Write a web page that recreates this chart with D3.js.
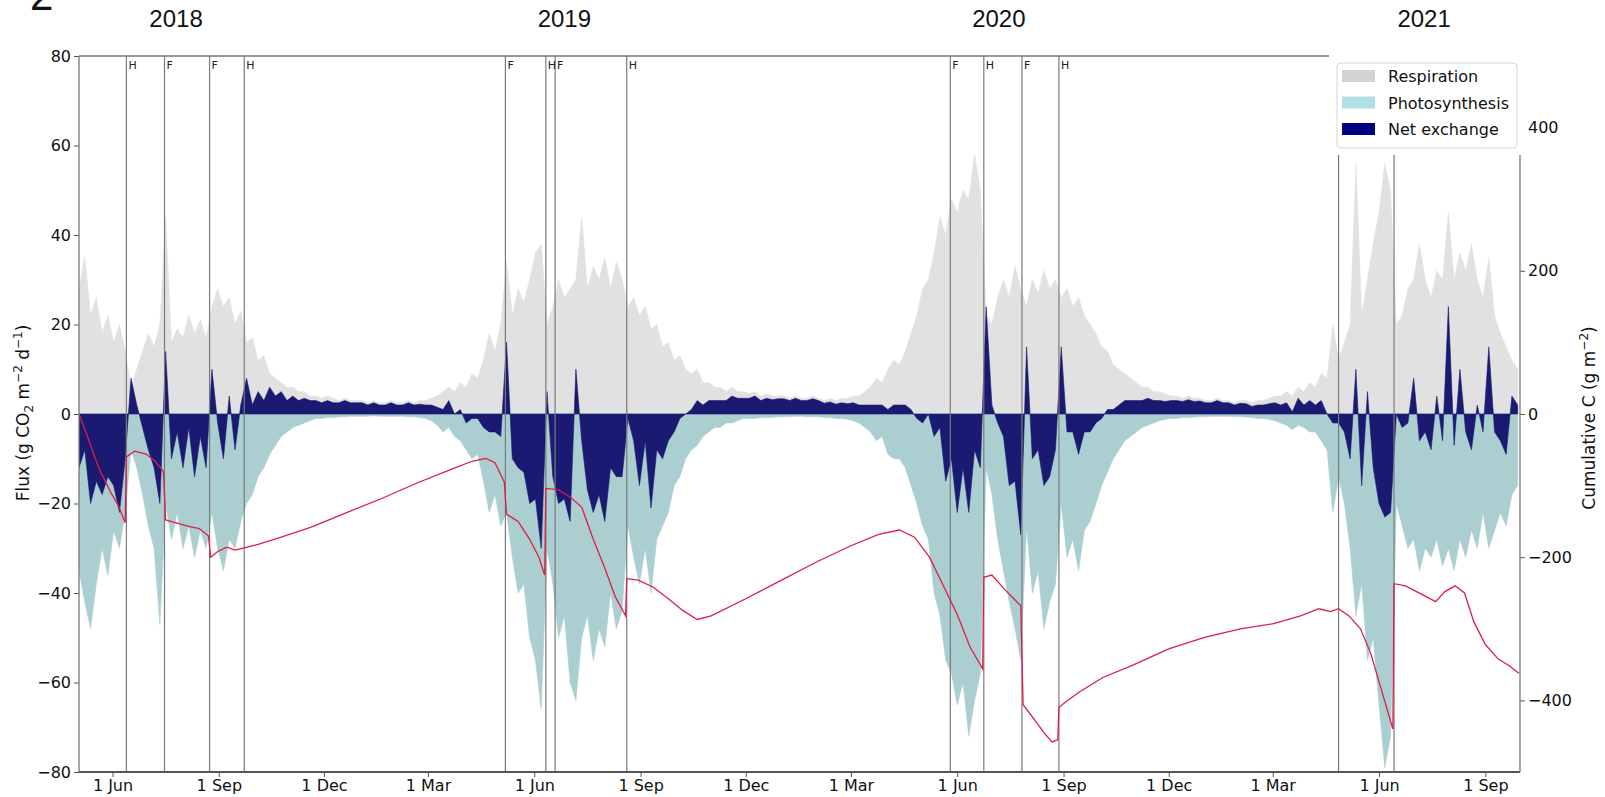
<!DOCTYPE html>
<html>
<head>
<meta charset="utf-8">
<script src="https://cdn.jsdelivr.net/npm/d3@7"></script>
<style>
  body { margin: 0; background: #fff; }
  svg text { font-family: "DejaVu Sans", sans-serif; }
</style>
</head>
<body>
<div id="chart"></div>
<script>
// daily fluxes sampled every 5 days from the start date (g CO2 m-2 d-1)
var startDate = "2018-05-03";
var stepDays = 5;

var respiration = [
  28, 35, 22, 26, 18, 22, 16, 20, 14, 6,
  10, 14, 18, 15, 20, 44, 16, 19, 17, 22,
  18, 21, 17, 24, 28, 24, 26, 20, 23, 16,
  17, 12, 13, 9, 8, 7, 6, 6, 5, 5,
  4, 4, 3.5, 4, 3.5, 3, 3.5, 3, 3, 3,
  2.5, 3, 2.5, 2.5, 3, 2.5, 2.5, 3, 2.5, 3,
  3, 3.5, 4, 5, 6, 5, 7, 6, 9, 8,
  12, 18, 14, 20, 34, 22, 28, 25, 30, 36,
  38, 20, 24, 30, 26, 28, 30, 44, 28, 33,
  30, 35, 28, 34, 30, 24, 26, 22, 24, 19,
  20, 15, 16, 12, 13, 10, 9, 10, 7, 7,
  6, 6, 5, 6, 5, 5, 4.5, 5, 4, 4.5,
  4, 4, 4, 3.5, 4, 3.5, 3.5, 4, 3.5, 3,
  3.5, 3, 3.5, 3.5, 4, 4, 5, 6, 8, 7,
  10, 12, 11, 14, 18, 22, 28, 30, 36, 44,
  40, 48, 45, 50, 48, 58, 50, 22, 20, 26,
  30, 26, 33, 28, 24, 30, 27, 32, 28, 30,
  26, 28, 24, 26, 22, 20, 18, 15, 14, 11,
  10, 9, 8, 7, 6, 6, 5, 5, 4.5, 4,
  4, 3.5, 4, 3.5, 3.5, 3, 3, 3.5, 3, 3,
  2.5, 3, 3, 2.5, 3, 3, 3.5, 4, 4, 5,
  4, 6, 5, 7, 6, 9, 8, 20, 12, 16,
  20, 56, 22, 30, 38, 45, 56, 50, 20, 22,
  28, 30, 38, 30, 26, 32, 30, 45, 30, 36,
  32, 38, 30, 26, 35, 22, 18, 15, 12, 10
];

var photosynthesis = [
  -35, -42, -48, -38, -30, -36, -26, -30, -22, -8,
  -12, -18, -25, -30, -47, -20, -28, -22, -30, -25,
  -32, -26, -30, -22, -30, -35, -28, -30, -24, -20,
  -18, -14, -12, -9, -7, -5, -4, -3, -2.5, -2,
  -1.5, -1, -1, -0.8, -0.8, -0.6, -0.6, -0.5, -0.5, -0.5,
  -0.5, -0.4, -0.5, -0.5, -0.5, -0.5, -0.5, -0.6, -0.6, -0.8,
  -1, -1.5, -2.5, -4, -3, -5, -6, -8, -10, -9,
  -15, -22, -18, -25, -22, -32, -40, -38, -50, -55,
  -66, -30, -38, -50, -45, -60, -64, -50, -45, -55,
  -48, -52, -40, -48, -44, -25, -32, -38, -30, -40,
  -28, -25, -22, -16, -14, -10, -8, -7, -5, -4,
  -3, -3, -2, -2, -1.5, -1, -1, -1, -0.8, -0.8,
  -0.8, -0.6, -0.6, -0.6, -0.5, -0.5, -0.6, -0.6, -0.6, -0.8,
  -0.8, -1, -1, -1.2, -1.5, -2, -3, -4, -6, -5,
  -9, -10, -10, -12, -16, -20, -25, -28, -40, -45,
  -55, -58, -65, -60, -72, -64, -58, -12, -18, -28,
  -35, -42, -48, -55, -25, -40, -35, -48, -42, -38,
  -20, -32, -28, -35, -26, -24, -20, -16, -13, -10,
  -8, -6, -5, -4, -3, -2.5, -2, -1.5, -1.2, -1,
  -1, -0.8, -0.8, -0.7, -0.6, -0.6, -0.5, -0.5, -0.5, -0.5,
  -0.6, -0.6, -0.7, -0.8, -1, -1, -1.2, -1.5, -2, -2.5,
  -3.5, -2.5, -3, -4, -4, -6, -8, -22, -14, -20,
  -30, -45, -38, -55, -50, -65, -79, -72, -20, -25,
  -30, -28, -35, -30, -32, -28, -34, -30, -35, -28,
  -32, -26, -30, -22, -30, -26, -22, -25, -18, -16
];

var netExchange = [
  -12, -8, -20, -15, -18, -14, -16, -22, -10, 8,
  2, -3, -8, -12, -20, 14, -10, -4, -12, -3,
  -14, -5, -12, 10, -2, -10, 4, -8, 2, 8,
  2, 5, 3, 6, 4, 5, 3, 4, 3, 3.5,
  3, 3, 2.5, 3, 2.5, 2.5, 3, 2.5, 2.5, 2.5,
  2, 2.5, 2, 2, 2.5, 2, 2, 2.5, 2, 2.2,
  2, 2, 1.5, 1, 3, 0, 1, -2, -1, -1,
  -3, -4, -4, -5, 16, -10, -12, -13, -20, -19,
  -30, 5, -14, -20, -19, -24, 10, -6, -17, -22,
  -18, -24, -12, -14, -14, -1, -6, -16, -6, -21,
  -8, -10, -6, -4, -1, 0, 1, 3, 2, 3,
  3, 3, 3, 4, 3.5, 3.5, 3.5, 4, 3, 3.5,
  3.2, 3.4, 3.4, 3, 3.5, 3, 3, 3.4, 3, 2.4,
  2.7, 2.2, 2.5, 2.3, 2.5, 2, 2, 2, 2, 2,
  1, 2, 2, 2, 1, -1, -2, 0, -5, -3,
  -15, -10, -22, -12, -22, -8, -12, 24, 2, -2,
  -5, -16, -15, -27, 15, -10, -8, -16, -14, -8,
  15, -4, -4, -9, -4, -4, -2, -1, 1, 1,
  2, 3, 3, 3, 3, 3.5, 3, 3, 2.8, 3,
  3, 2.8, 3.2, 2.8, 2.9, 2.5, 2.5, 3, 2.5, 2.5,
  2, 2.4, 2.3, 1.7, 2, 2, 2.3, 2.5, 2, 2.5,
  0.5, 3.5, 2, 3, 2, 3, 0, -2, -2, -4,
  -10, 10, -16, 5, -12, -20, -23, -22, 0, -3,
  -2, 8, -6, -4, -8, 4, -6, 24, -7, 10,
  -4, -8, 2, -4, 15, -4, -6, -9, 4, 2
];

// cumulative carbon (g m-2), right axis
var cumDates = [
  "2018-05-03", "2018-05-10", "2018-05-20", "2018-05-30", "2018-06-06", "2018-06-12", "2018-06-13",
  "2018-06-20", "2018-06-30", "2018-07-08", "2018-07-15", "2018-07-17", "2018-07-26", "2018-08-06",
  "2018-08-15", "2018-08-23", "2018-08-25", "2018-08-31", "2018-09-08", "2018-09-15", "2018-09-23",
  "2018-10-05", "2018-10-25", "2018-11-20", "2018-12-20", "2019-01-20", "2019-02-20", "2019-03-20",
  "2019-04-08", "2019-04-20", "2019-04-28", "2019-05-06", "2019-05-08", "2019-05-18", "2019-05-28",
  "2019-06-05", "2019-06-10", "2019-06-11", "2019-06-22", "2019-07-02", "2019-07-12", "2019-07-22",
  "2019-08-01", "2019-08-10", "2019-08-19", "2019-08-20", "2019-08-30", "2019-09-12", "2019-09-25",
  "2019-10-08", "2019-10-20", "2019-11-01", "2019-12-01", "2020-01-01", "2020-02-01", "2020-03-01",
  "2020-03-25", "2020-04-12", "2020-04-25", "2020-05-08", "2020-05-20", "2020-06-01", "2020-06-12",
  "2020-06-23", "2020-06-24", "2020-07-01", "2020-07-12", "2020-07-26", "2020-07-28", "2020-08-06",
  "2020-08-15", "2020-08-22", "2020-08-27", "2020-08-28", "2020-09-03", "2020-09-15", "2020-10-05",
  "2020-11-01", "2020-12-01", "2021-01-01", "2021-02-01", "2021-03-01", "2021-03-25", "2021-04-10",
  "2021-04-20", "2021-04-27", "2021-05-06", "2021-05-16", "2021-05-25", "2021-06-03", "2021-06-13",
  "2021-06-14", "2021-06-24", "2021-07-08", "2021-07-20", "2021-07-28", "2021-08-06", "2021-08-14",
  "2021-08-22", "2021-09-01", "2021-09-12", "2021-09-22", "2021-09-30"
];
var cumValues = [
  0, -30, -75, -108, -128, -152, -60,
  -52, -56, -66, -80, -148, -152, -157,
  -160, -170, -200, -192, -186, -190, -187,
  -182, -172, -158, -138, -118, -96, -78,
  -66, -62, -68, -95, -140, -150, -175,
  -200, -225, -104, -106, -116, -130, -175,
  -215, -255, -282, -230, -232, -242, -258,
  -275, -287, -282, -258, -232, -206, -184,
  -168, -162, -172, -200, -240, -280, -325,
  -356, -228, -225, -245, -268, -406, -425,
  -445, -458, -455, -410, -402, -388, -368,
  -350, -328, -312, -300, -293, -282, -272,
  -276, -272, -282, -300, -335, -385, -440,
  -237, -240, -252, -262, -248, -240, -250,
  -290, -322, -342, -352, -362
];

// harvest (H) and fertilisation (F) dates
var mgmtDates = [
  "2018-06-13", "2018-07-16", "2018-08-24", "2018-09-23",
  "2019-05-07", "2019-06-11", "2019-06-19", "2019-08-20",
  "2020-05-26", "2020-06-24", "2020-07-27", "2020-08-28",
  "2021-04-27", "2021-06-14"
];
var mgmtLabels = ["H", "F", "F", "H", "F", "H", "F", "H", "F", "H", "F", "H", "", ""];

var xTickDates = [
  "2018-06-01", "2018-09-01", "2018-12-01", "2019-03-01", "2019-06-01", "2019-09-01", "2019-12-01",
  "2020-03-01", "2020-06-01", "2020-09-01", "2020-12-01", "2021-03-01", "2021-06-01", "2021-09-01"
];
var fluxTicks = [-80, -60, -40, -20, 0, 20, 40, 60, 80];
var cumTicks = [-400, -200, 0, 200, 400];

var years = ["2018", "2019", "2020", "2021"];
var yearDates = ["2018-07-26", "2019-06-27", "2020-07-07", "2021-07-10"];

var seriesNames = ["Respiration", "Photosynthesis", "Net exchange"];
var legendColors = ["#d3d3d3", "#b0e0e6", "#000080"];
var fillColors = ["#e1e1e1", "#abcfd1", "#1a1a72"];

var svg = d3.select("#chart")
            .append("svg")
            .attr("width", 1605)
            .attr("height", 797);

var parse = d3.utcParse("%Y-%m-%d");
var t0 = parse(startDate);
var days = respiration.map(function(d, i) { return d3.utcDay.offset(t0, i * stepDays); });

var plotLeft = 79, plotRight = 1520, plotTop = 56, plotBottom = 772;

var x = d3.scaleUtc()
          .domain([parse("2018-05-03"), parse("2021-10-01")])
          .range([plotLeft, plotRight]);
var y = d3.scaleLinear().domain([-80, 80]).range([plotBottom, plotTop]);
var y2 = d3.scaleLinear().domain([-500, 500]).range([plotBottom, plotTop]);

svg.append("clipPath").attr("id", "plotclip")
   .append("rect")
   .attr("x", plotLeft).attr("y", plotTop)
   .attr("width", plotRight - plotLeft).attr("height", plotBottom - plotTop);

var plot = svg.append("g").attr("clip-path", "url(#plotclip)");

function band(values) {
  return d3.area()
           .x(function(d, i) { return x(days[i]); })
           .y0(y(0))
           .y1(function(d) { return y(d); })(values);
}

[respiration, photosynthesis, netExchange].forEach(function(s, k) {
  plot.append("path")
      .attr("d", band(s))
      .attr("fill", fillColors[k])
      .attr("stroke", fillColors[k])
      .attr("stroke-width", 0.6);
});

// management lines; the 2021 ones start below the legend
plot.selectAll("mgmt")
   .data(mgmtDates)
   .enter()
   .append("line")
   .attr("x1", function(d) { return x(parse(d)); })
   .attr("x2", function(d) { return x(parse(d)); })
   .attr("y1", function(d, i) { return mgmtLabels[i] == "" ? 155 : plotTop; })
   .attr("y2", plotBottom)
   .attr("stroke", "#7a7a7a")
   .attr("stroke-width", 1.2);

svg.selectAll("mgmt_labels")
   .data(mgmtDates)
   .enter()
   .append("text")
   .attr("x", function(d) { return x(parse(d)) + 2; })
   .attr("y", 69)
   .style("font-size", "11px")
   .style("fill", "#222")
   .text(function(d, i) { return mgmtLabels[i]; });

// cumulative line
var cumLine = d3.line()
                .x(function(d) { return x(parse(d)); })
                .y(function(d, i) { return y2(cumValues[i]); });

plot.append("path")
    .attr("d", cumLine(cumDates))
    .attr("fill", "none")
    .attr("stroke", "#dc1e46")
    .attr("stroke-width", 1.3);

// axes
var xAxis = svg.append("g")
   .attr("transform", "translate(0," + plotBottom + ")")
   .call(d3.axisBottom(x)
           .tickValues(xTickDates.map(parse))
           .tickFormat(d3.utcFormat("%-d %b"))
           .tickSize(5).tickPadding(3));

var yAxis = svg.append("g")
   .attr("transform", "translate(" + plotLeft + ",0)")
   .call(d3.axisLeft(y).tickValues(fluxTicks).tickSize(5).tickPadding(3));

var y2Axis = svg.append("g")
   .attr("transform", "translate(" + plotRight + ",0)")
   .call(d3.axisRight(y2).tickValues(cumTicks).tickSize(5).tickPadding(3));

[xAxis, yAxis, y2Axis].forEach(function(g) {
  g.select(".domain").remove();
  g.selectAll(".tick line").attr("stroke", "#555").attr("stroke-width", 1);
  g.selectAll(".tick text").style("font-size", "16px").attr("fill", "#111");
});
y2Axis.selectAll(".tick line").filter(function(d) { return d == 400; }).remove();

// spines
var spines = [
  [plotLeft, plotTop, plotLeft, plotBottom],
  [plotLeft, plotBottom, plotRight, plotBottom],
  [plotLeft, plotTop, 1329, plotTop],
  [plotRight, 155, plotRight, plotBottom]
];
svg.selectAll("spine")
   .data(spines)
   .enter()
   .append("line")
   .attr("x1", function(d) { return d[0]; })
   .attr("y1", function(d) { return d[1]; })
   .attr("x2", function(d) { return d[2]; })
   .attr("y2", function(d) { return d[3]; })
   .attr("stroke", function(d, i) { return i == 1 ? "#555" : "#777"; })
   .attr("stroke-width", function(d, i) { return i == 1 ? 2 : 1.3; });

// axis titles
var fluxLabel = svg.append("text")
   .attr("transform", "translate(29,413) rotate(-90)")
   .attr("text-anchor", "middle")
   .style("font-size", "17px")
   .attr("fill", "#111");
fluxLabel.append("tspan").text("Flux (g CO");
fluxLabel.append("tspan").attr("dy", 4).style("font-size", "12px").text("2");
fluxLabel.append("tspan").attr("dy", -4).text(" m");
fluxLabel.append("tspan").attr("dy", -7).style("font-size", "12px").text("\u22122");
fluxLabel.append("tspan").attr("dy", 7).text(" d");
fluxLabel.append("tspan").attr("dy", -7).style("font-size", "12px").text("\u22121");
fluxLabel.append("tspan").attr("dy", 7).text(")");

var cumLabel = svg.append("text")
   .attr("transform", "translate(1595,418) rotate(-90)")
   .attr("text-anchor", "middle")
   .style("font-size", "17px")
   .attr("fill", "#111");
cumLabel.append("tspan").text("Cumulative C (g m");
cumLabel.append("tspan").attr("dy", -7).style("font-size", "12px").text("\u22122");
cumLabel.append("tspan").attr("dy", 7).text(")");

// year labels and panel letter
svg.selectAll("years")
   .data(years)
   .enter()
   .append("text")
   .attr("x", function(d, i) { return x(parse(yearDates[i])); })
   .attr("y", 27)
   .attr("text-anchor", "middle")
   .style("font-family", "Liberation Sans, Arial, sans-serif")
   .style("font-size", "24px")
   .attr("fill", "#111")
   .text(function(d) { return d; });

svg.append("text")
   .attr("x", 30).attr("y", 10)
   .style("font-family", "Liberation Sans, Arial, sans-serif")
   .style("font-size", "42px")
   .attr("fill", "#111")
   .text("2");

// legend
var legend = svg.append("g");
legend.append("rect")
      .attr("x", 1337).attr("y", 63)
      .attr("width", 180).attr("height", 85)
      .attr("rx", 4).attr("ry", 4)
      .attr("fill", "#fff")
      .attr("stroke", "#d6d6d6");

legend.selectAll("patch")
      .data(seriesNames)
      .enter()
      .append("rect")
      .attr("x", 1342)
      .attr("y", function(d, i) { return 70 + i * 26.5; })
      .attr("width", 33).attr("height", 12)
      .attr("fill", function(d, i) { return legendColors[i]; });

legend.selectAll("names")
      .data(seriesNames)
      .enter()
      .append("text")
      .attr("x", 1388)
      .attr("y", function(d, i) { return 82 + i * 26.5; })
      .style("font-size", "16px")
      .attr("fill", "#111")
      .text(function(d) { return d; });
</script>
</body>
</html>
